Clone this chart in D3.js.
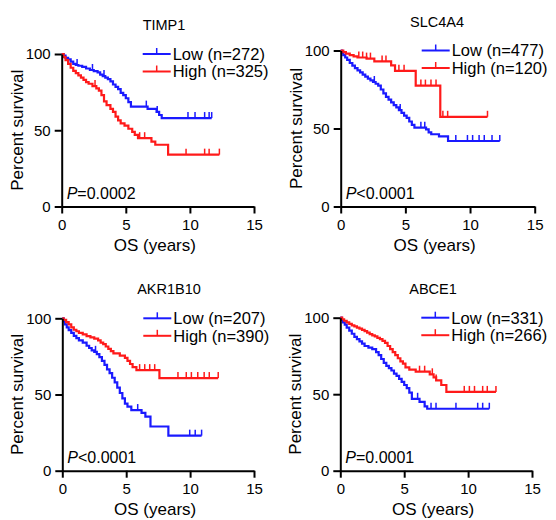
<!DOCTYPE html>
<html>
<head>
<meta charset="utf-8">
<script src="https://cdn.jsdelivr.net/npm/d3@7"></script>
<style>
  body { margin: 0; background: #fff; }
  text { font-family: Arial, "Liberation Sans", sans-serif; fill: #000; }
</style>
</head>
<body>
<div id="chart"></div>
<script>
var genes = ['TIMP1', 'SLC4A4', 'AKR1B10', 'ABCE1'];
var nLow = [272, 477, 207, 331];
var nHigh = [325, 120, 390, 266];
var pValues = ['=0.0002', '<0.0001', '<0.0001', '=0.0001'];
var xTicks = [0, 5, 10, 15];
var yTicks = [0, 50, 100];

// Kaplan-Meier steps: [years, percent surviving]
var timp1Low = [[0,100],[0.15,99],[0.3,97.5],[0.5,96.5],[0.7,95],[0.9,93.5],[1.1,92.8],[1.3,92.3],[1.6,91.5],[1.9,90.5],[2.2,89.5],[2.5,88.8],[2.8,88],[3.0,86.5],[3.2,85.5],[3.4,84.5],[3.6,83.5],[3.8,82],[4.0,80],[4.2,78.5],[4.4,77],[4.6,74.5],[4.8,73],[5.0,71],[5.2,68.5],[5.4,65.5],[6.7,64],[7.4,62],[7.6,60],[7.8,58],[11.7,58]];
var timp1High = [[0,100],[0.15,98],[0.3,96],[0.5,93.5],[0.7,91],[0.9,89],[1.1,87.5],[1.3,86],[1.5,84.5],[1.7,83],[1.9,81.5],[2.1,80.5],[2.4,79],[2.7,77.5],[2.9,76],[3.1,73],[3.3,69],[3.5,66.5],[3.8,64],[4.0,62],[4.2,59],[4.4,56.5],[4.6,54.5],[4.9,53],[5.2,51],[5.5,49],[5.7,47],[5.95,44.8],[7.0,42.5],[7.3,40.5],[8.3,34],[12.3,34]];
var slc4a4Low = [[0,100],[0.1,98.5],[0.2,97],[0.35,95.5],[0.5,94],[0.7,92],[0.9,90.3],[1.1,88.7],[1.3,87.3],[1.5,86],[1.7,84.5],[1.9,83.2],[2.1,82],[2.3,80.8],[2.5,79.8],[2.7,78.7],[2.9,77.5],[3.1,75],[3.3,72.5],[3.5,70.3],[3.7,68.5],[3.9,66.8],[4.1,65],[4.3,63.5],[4.5,61.8],[4.7,60],[4.9,58.3],[5.1,56.8],[5.3,54.5],[5.5,52.3],[5.7,50.5],[6.6,49.5],[6.8,47.5],[7.0,46.3],[7.6,45],[8.3,42],[12.3,42]];
var slc4a4High = [[0,100],[0.2,99],[0.4,98],[0.7,97],[1.0,96.2],[1.3,95.5],[2.0,94.8],[2.6,93],[3.9,90.5],[4.2,87],[5.8,77.5],[7.7,57.5],[11.35,57.5]];
var akr1b10Low = [[0,100],[0.1,98],[0.2,96],[0.35,94],[0.5,92.3],[0.7,90.5],[0.9,88.5],[1.1,87],[1.3,85.5],[1.6,84],[1.9,82],[2.1,80.5],[2.3,79],[2.5,78],[2.7,76.5],[2.9,74.5],[3.1,72],[3.3,69.5],[3.5,66.5],[3.7,64],[3.9,61],[4.1,58],[4.3,54.5],[4.5,51],[4.7,47.5],[4.9,44],[5.1,42],[5.4,39.8],[6.2,38],[6.5,35.5],[6.9,29],[8.3,23],[10.9,23]];
var akr1b10High = [[0,100],[0.1,99],[0.3,97.5],[0.5,96],[0.7,94],[0.9,92.5],[1.1,91.5],[1.3,90.5],[1.6,89.5],[1.9,88.3],[2.2,87.5],[2.5,86.7],[2.8,85.5],[3.0,84],[3.2,83],[3.4,81.5],[3.6,80],[3.8,78.5],[4.0,77],[4.5,75.5],[4.9,74],[5.1,72],[5.3,70],[5.5,68],[5.8,66],[7.6,60.8],[12.2,60.8]];
var abce1Low = [[0,100],[0.1,98.5],[0.2,97],[0.35,95.5],[0.5,93.5],[0.7,91.5],[0.9,89.5],[1.1,87.5],[1.3,86],[1.5,84.5],[1.7,83],[1.9,81.5],[2.2,80.5],[2.5,79.5],[2.8,77.5],[3.0,75.5],[3.2,73],[3.4,70.5],[3.6,68.5],[3.8,67],[4.0,65.5],[4.2,63.5],[4.4,62],[4.6,60],[4.8,58],[5.0,56],[5.2,54],[5.4,51],[5.6,47],[6.2,45],[6.6,42],[6.8,40.5],[11.66,40.5]];
var abce1High = [[0,100],[0.15,99],[0.3,98],[0.5,97],[0.7,96],[0.9,95],[1.1,94.3],[1.3,93.5],[1.5,92.8],[1.7,92],[1.9,91.2],[2.1,90.3],[2.3,89.3],[2.5,88.5],[2.7,87.8],[2.9,86.8],[3.1,86],[3.3,84.8],[3.5,83.5],[3.7,81.5],[3.9,79.5],[4.1,77.5],[4.3,75.5],[4.5,73.5],[4.7,71.5],[4.9,70],[5.1,67.5],[5.4,66],[5.9,64.7],[7.0,63],[7.3,61],[7.5,59],[7.9,56],[8.3,51.5],[12.18,51.5]];

// censored observations (years)
var timp1LowCensor = [1.2, 2.4, 3.3, 6.6, 7.45, 9.85, 10.4, 11.15, 11.5, 11.7];
var timp1HighCensor = [2.6, 6.08, 6.47, 9.7, 11.15, 11.5, 12.3];
var slc4a4LowCensor = [2.6, 4.6, 6.2, 6.5, 8.9, 9.8, 10.2, 10.7, 11.1, 11.7, 12.3];
var slc4a4HighCensor = [1.4, 1.7, 2.0, 2.3, 3.2, 3.5, 4.5, 4.9, 6.2, 6.55, 6.98, 7.37, 7.9, 8.27, 11.35];
var akr1b10LowCensor = [2.6, 5.9, 9.97, 10.4, 10.9];
var akr1b10HighCensor = [6.05, 6.45, 6.84, 7.23, 9.05, 9.7, 10.1, 10.6, 11.1, 11.5, 12.2];
var abce1LowCensor = [6.05, 7.1, 7.49, 9.05, 10.75, 11.14, 11.66];
var abce1HighCensor = [6.2, 6.6, 7.2, 7.5, 9.7, 10.1, 10.5, 11.14, 11.5, 12.18];

var lowCurves = [timp1Low, slc4a4Low, akr1b10Low, abce1Low];
var highCurves = [timp1High, slc4a4High, akr1b10High, abce1High];
var lowCensors = [timp1LowCensor, slc4a4LowCensor, akr1b10LowCensor, abce1LowCensor];
var highCensors = [timp1HighCensor, slc4a4HighCensor, akr1b10HighCensor, abce1HighCensor];

// panel frames in page pixels
var frames = [
    {left: 61.7, right: 254, top: 54, bottom: 206.5, titleX: 164},
    {left: 340.7, right: 534.7, top: 50.5, bottom: 206.5, titleX: 437},
    {left: 62.3, right: 254, top: 318.3, bottom: 470.7, titleX: 169},
    {left: 340.3, right: 532, top: 317.7, bottom: 470.7, titleX: 433}
];

var blue = '#1a1aff', red = '#ff1a1a';

var svg = d3.select('#chart').append('svg')
    .attr('width', 556)
    .attr('height', 520);

function survivalAt(curve, t) {
    var s = curve[0][1];
    for (var i = 0; i < curve.length; ++i) {
        if (curve[i][0] <= t) s = curve[i][1];
    }
    return s;
}

function drawPanel(i) {
    var f = frames[i];
    var x = d3.scaleLinear().domain([0, 15]).range([f.left, f.right]);
    var y = d3.scaleLinear().domain([0, 100]).range([f.bottom, f.top]);
    var g = svg.append('g');

    var line = d3.line()
        .x(function (d) { return x(d[0]); })
        .y(function (d) { return y(d[1]); })
        .curve(d3.curveStepAfter);

    function drawCurve(curve, censor, color) {
        g.append('path')
            .attr('d', line(curve))
            .attr('fill', 'none')
            .attr('stroke', color)
            .attr('stroke-width', 2.2);
        g.selectAll(null)
            .data(censor)
            .enter().append('line')
            .attr('x1', function (d) { return x(d); })
            .attr('x2', function (d) { return x(d); })
            .attr('y1', function (d) { return y(survivalAt(curve, d)); })
            .attr('y2', function (d) { return y(survivalAt(curve, d)) - 6; })
            .attr('stroke', color)
            .attr('stroke-width', 1.5);
    }
    drawCurve(lowCurves[i], lowCensors[i], blue);
    drawCurve(highCurves[i], highCensors[i], red);

    var xAxis = g.append('g')
        .attr('transform', 'translate(0,' + f.bottom + ')')
        .call(d3.axisBottom(x).tickValues(xTicks).tickSize(7).tickSizeOuter(0).tickPadding(6));
    var yAxis = g.append('g')
        .attr('transform', 'translate(' + f.left + ',0)')
        .call(d3.axisLeft(y).tickValues(yTicks).tickSize(7).tickSizeOuter(0).tickPadding(4));

    [xAxis, yAxis].forEach(function (a) {
        a.select('.domain').attr('stroke', '#000').attr('stroke-width', 2);
        a.selectAll('.tick line').attr('stroke', '#000').attr('stroke-width', 2);
        a.selectAll('.tick text')
            .attr('font-size', '15px')
            .attr('font-family', 'Arial, "Liberation Sans", sans-serif')
            .attr('fill', '#000');
    });

    g.append('text')
        .attr('x', f.titleX)
        .attr('y', f.top - 24)
        .attr('text-anchor', 'middle')
        .attr('font-size', '14.5px')
        .text(genes[i]);

    g.append('text')
        .attr('x', (f.left + f.right) / 2 - 3)
        .attr('y', f.bottom + 44)
        .attr('text-anchor', 'middle')
        .attr('font-size', '17px')
        .text('OS (years)');

    g.append('text')
        .attr('transform', 'translate(' + (f.left - 39) + ',' + (f.top + f.bottom) / 2 + ')rotate(-90)')
        .attr('text-anchor', 'middle')
        .attr('font-size', '17px')
        .text('Percent survival');

    var p = g.append('text')
        .attr('x', f.left + 5)
        .attr('y', f.bottom - 8)
        .attr('font-size', '16px');
    p.append('tspan').attr('font-style', 'italic').text('P');
    p.append('tspan').text(pValues[i]);

    var legend = [
        {label: 'Low (n=' + nLow[i] + ')', color: blue},
        {label: 'High (n=' + nHigh[i] + ')', color: red}
    ];
    legend.forEach(function (d, k) {
        var ly = f.top + k * 17.5;
        g.append('line')
            .attr('x1', f.left + 81).attr('x2', f.left + 109)
            .attr('y1', ly).attr('y2', ly)
            .attr('stroke', d.color).attr('stroke-width', 2);
        g.append('line')
            .attr('x1', f.left + 95).attr('x2', f.left + 95)
            .attr('y1', ly).attr('y2', ly - 6)
            .attr('stroke', d.color).attr('stroke-width', 1.5);
        g.append('text')
            .attr('x', f.left + 111)
            .attr('y', ly)
            .attr('dy', '0.36em')
            .attr('font-size', '16.5px')
            .text(d.label);
    });
}

for (var i = 0; i < genes.length; ++i) {
    drawPanel(i);
}
</script>
</body>
</html>
